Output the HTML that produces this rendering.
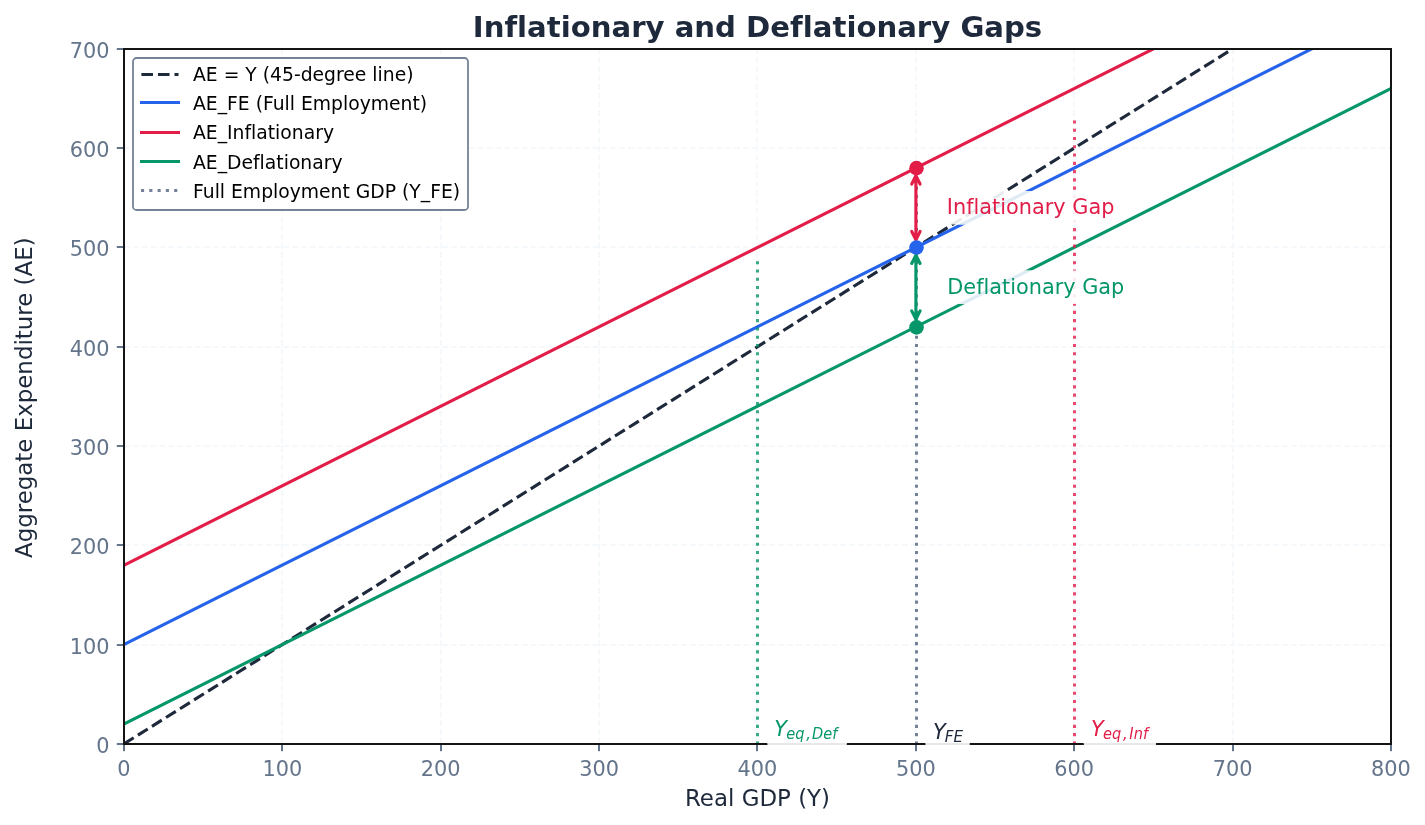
<!DOCTYPE html>
<html lang="en">
<head>
<meta charset="utf-8">
<title>Inflationary and Deflationary Gaps</title>
<style>
html,body{margin:0;padding:0;background:#fff;}
body{width:1425px;height:825px;overflow:hidden;}
svg{display:block;}
svg text{font-family:"DejaVu Sans", "Liberation Sans", sans-serif;font-variant-ligatures:none;font-feature-settings:"liga" 0,"clig" 0;}
</style>
</head>
<body>
<svg width="1425" height="825" viewBox="0 0 1425 825">
<rect x="0" y="0" width="1425" height="825" fill="#ffffff"/>
<defs><clipPath id="ax"><rect x="123.9" y="48.9" width="1267" height="695"/></clipPath></defs>
<g id="grid" stroke="#f6f9fc" stroke-width="2" stroke-dasharray="6.17 2.67" fill="none">
<line x1="282" y1="744" x2="282" y2="49"/>
<line x1="441" y1="744" x2="441" y2="49"/>
<line x1="599" y1="744" x2="599" y2="49"/>
<line x1="757" y1="744" x2="757" y2="49"/>
<line x1="916" y1="744" x2="916" y2="49"/>
<line x1="1074" y1="744" x2="1074" y2="49"/>
<line x1="1233" y1="744" x2="1233" y2="49"/>
<line x1="124" y1="645" x2="1391" y2="645"/>
<line x1="124" y1="545" x2="1391" y2="545"/>
<line x1="124" y1="446" x2="1391" y2="446"/>
<line x1="124" y1="347" x2="1391" y2="347"/>
<line x1="124" y1="247" x2="1391" y2="247"/>
<line x1="124" y1="148" x2="1391" y2="148"/>
</g>
<g id="lines" clip-path="url(#ax)" fill="none" stroke-width="3.12">
<line x1="123.9" y1="743.9" x2="1390.9" y2="-50.39" stroke="#1e293b" stroke-dasharray="11.56 5"/>
<line x1="123.9" y1="644.61" x2="1390.9" y2="9.19" stroke="#2563eb" stroke-linecap="square"/>
<line x1="123.9" y1="565.19" x2="1390.9" y2="-70.24" stroke="#e11d48" stroke-linecap="square"/>
<line x1="123.9" y1="724.04" x2="1390.9" y2="88.61" stroke="#059669" stroke-linecap="square"/>
<line x1="757.5" y1="744.5" x2="757.5" y2="257.4" stroke="#059669" stroke-opacity="0.8" stroke-width="3" stroke-dasharray="3.12 5.16"/>
<line x1="916.5" y1="744.5" x2="916.5" y2="168.04" stroke="#64748b" stroke-opacity="0.9" stroke-width="3" stroke-dasharray="3.12 5.16"/>
<line x1="1074.5" y1="744.5" x2="1074.5" y2="118.4" stroke="#e11d48" stroke-opacity="0.8" stroke-width="3" stroke-dasharray="3.12 5.16"/>
</g>
<g id="spines" fill="#141414">
<rect x="123" y="48" width="2" height="697"/>
<rect x="1390" y="48" width="2" height="697"/>
<rect x="123" y="48" width="1269" height="2"/>
<rect x="123" y="743" width="1269" height="2"/>
</g>
<g id="ticks" fill="#64748b">
<rect x="123" y="745" width="2" height="6.2"/>
<rect x="281" y="745" width="2" height="6.2"/>
<rect x="440" y="745" width="2" height="6.2"/>
<rect x="598" y="745" width="2" height="6.2"/>
<rect x="756" y="745" width="2" height="6.2"/>
<rect x="915" y="745" width="2" height="6.2"/>
<rect x="1073" y="745" width="2" height="6.2"/>
<rect x="1232" y="745" width="2" height="6.2"/>
<rect x="1390" y="745" width="2" height="6.2"/>
<rect x="116.8" y="743" width="6.2" height="2"/>
<rect x="116.8" y="644" width="6.2" height="2"/>
<rect x="116.8" y="544" width="6.2" height="2"/>
<rect x="116.8" y="445" width="6.2" height="2"/>
<rect x="116.8" y="346" width="6.2" height="2"/>
<rect x="116.8" y="246" width="6.2" height="2"/>
<rect x="116.8" y="147" width="6.2" height="2"/>
<rect x="116.8" y="48" width="6.2" height="2"/>
</g>
<g id="ticklabels" fill="#64748b" font-size="20.83">
<text x="124" y="776" text-anchor="middle">0</text>
<text x="282.38" y="776" text-anchor="middle">100</text>
<text x="440.75" y="776" text-anchor="middle">200</text>
<text x="599.12" y="776" text-anchor="middle">300</text>
<text x="757.5" y="776" text-anchor="middle">400</text>
<text x="915.88" y="776" text-anchor="middle">500</text>
<text x="1074.25" y="776" text-anchor="middle">600</text>
<text x="1232.62" y="776" text-anchor="middle">700</text>
<text x="1391" y="776" text-anchor="middle">800</text>
<text x="109.4" y="753" text-anchor="end">0</text>
<text x="109.4" y="654" text-anchor="end">100</text>
<text x="109.4" y="554" text-anchor="end">200</text>
<text x="109.4" y="455" text-anchor="end">300</text>
<text x="109.4" y="356" text-anchor="end">400</text>
<text x="109.4" y="256" text-anchor="end">500</text>
<text x="109.4" y="157" text-anchor="end">600</text>
<text x="109.4" y="58" text-anchor="end">700</text>
</g>
<text x="757.5" y="806" text-anchor="middle" font-size="22.92" fill="#1e293b">Real GDP (Y)</text>
<text transform="translate(32 397.7) rotate(-90)" text-anchor="middle" font-size="22.92" fill="#1e293b">Aggregate Expenditure (AE)</text>
<text x="757.5" y="37" text-anchor="middle" font-size="29.17" font-weight="bold" fill="#1e293b">Inflationary and Deflationary Gaps</text>
<g id="arrows">
<path d="M915.9 175.7L915.9 239.81M911.73 184.04L915.9 175.7L920.07 184.04M911.73 231.48L915.9 239.81L920.07 231.48" fill="none" stroke="#e11d48" stroke-width="3.12" stroke-linecap="round" stroke-linejoin="round"/>
<path d="M915.9 255.13L915.9 319.24M911.73 263.47L915.9 255.13L920.07 263.47M911.73 310.91L915.9 319.24L920.07 310.91" fill="none" stroke="#059669" stroke-width="3.12" stroke-linecap="round" stroke-linejoin="round"/>
</g>
<defs><clipPath id="cb1"><rect x="941.3" y="191" width="179.7" height="33.4" rx="6.25" ry="6.25"/></clipPath><clipPath id="cb2"><rect x="941.3" y="270.6" width="189.2" height="33.4" rx="6.25" ry="6.25"/></clipPath></defs>
<g id="gaplabels" font-size="20.83">
<rect x="941.3" y="191" width="179.7" height="33.4" rx="6.25" ry="6.25" fill="#ffffff" fill-opacity="0.9"/>
<line clip-path="url(#cb1)" x1="123.9" y1="644.61" x2="1390.9" y2="9.19" stroke="#e0ecf4" stroke-width="3.12"/>
<text x="946.85" y="214" fill="#e11d48">Inflationary Gap</text>
<rect x="941.3" y="270.6" width="189.2" height="33.4" rx="6.25" ry="6.25" fill="#ffffff" fill-opacity="0.9"/>
<line clip-path="url(#cb2)" x1="123.9" y1="724.04" x2="1390.9" y2="88.61" stroke="#e0ecf4" stroke-width="3.12"/>
<text x="947.3" y="294" fill="#059669">Deflationary Gap</text>
</g>
<g id="eqlabels" font-style="italic">
<rect x="767.3" y="714" width="79.6" height="36" rx="6.25" ry="6.25" fill="#ffffff" fill-opacity="0.9"/>
<text x="774.3" y="736" font-size="20.83" fill="#059669">Y</text>
<text transform="translate(786.2 738.7) scale(1 1.12)" font-size="14.58" fill="#059669">eq</text>
<text transform="translate(806.3 738.7) scale(1 1.12)" font-size="14.58" fill="#059669">,</text>
<text transform="translate(812.1 738.7) scale(1 1.12)" font-size="14.58" fill="#059669">Def</text>
<rect x="1083.7" y="714" width="72.4" height="36" rx="6.25" ry="6.25" fill="#ffffff" fill-opacity="0.9"/>
<text x="1091.05" y="736" font-size="20.83" fill="#e11d48">Y</text>
<text transform="translate(1102.95 738.7) scale(1 1.12)" font-size="14.58" fill="#e11d48">eq</text>
<text transform="translate(1123.05 738.7) scale(1 1.12)" font-size="14.58" fill="#e11d48">,</text>
<text transform="translate(1129.35 738.7) scale(1 1.12)" font-size="14.58" fill="#e11d48">Inf</text>
<rect x="925.4" y="716.7" width="44.4" height="33.5" rx="6.25" ry="6.25" fill="#ffffff" fill-opacity="0.9"/>
<text x="932.9" y="739" font-size="20.83" fill="#1e293b">Y</text>
<text transform="translate(944.7 742.05) scale(1.04 1.12)" font-size="14.58" fill="#1e293b">FE</text>
</g>
<g id="markers">
<circle cx="916.5" cy="168.14" r="7.3" fill="#e11d48"/>
<circle cx="916.5" cy="247.57" r="7.3" fill="#2563eb"/>
<circle cx="916.5" cy="327.4" r="7.3" fill="#059669"/>
</g>
<g id="legend" font-size="18.75">
<rect x="133" y="58" width="335" height="152" rx="3.5" ry="3.5" fill="#ffffff" fill-opacity="0.9" stroke="#748397" stroke-width="1.8"/>
<line x1="141.4" y1="74.5" x2="178.5" y2="74.5" stroke="#1e293b" stroke-width="3" stroke-dasharray="11.56 5"/>
<text x="193" y="81" fill="#000000">AE = Y (45-degree line)</text>
<rect x="140" y="101" width="40" height="3" fill="#2563eb"/>
<text x="193" y="110" fill="#000000">AE_FE (Full Employment)</text>
<rect x="140" y="131" width="40" height="3" fill="#e11d48"/>
<text x="193" y="139" fill="#000000">AE_Inflationary</text>
<rect x="140" y="160" width="40" height="3" fill="#059669"/>
<text x="193" y="169" fill="#000000">AE_Deflationary</text>
<line x1="141" y1="190.5" x2="178.5" y2="190.5" stroke="#64748b" stroke-opacity="0.9" stroke-width="3" stroke-dasharray="3.12 5.16"/>
<text x="193" y="198" fill="#000000">Full Employment GDP (Y_FE)</text>
</g>
</svg>
</body>
</html>
